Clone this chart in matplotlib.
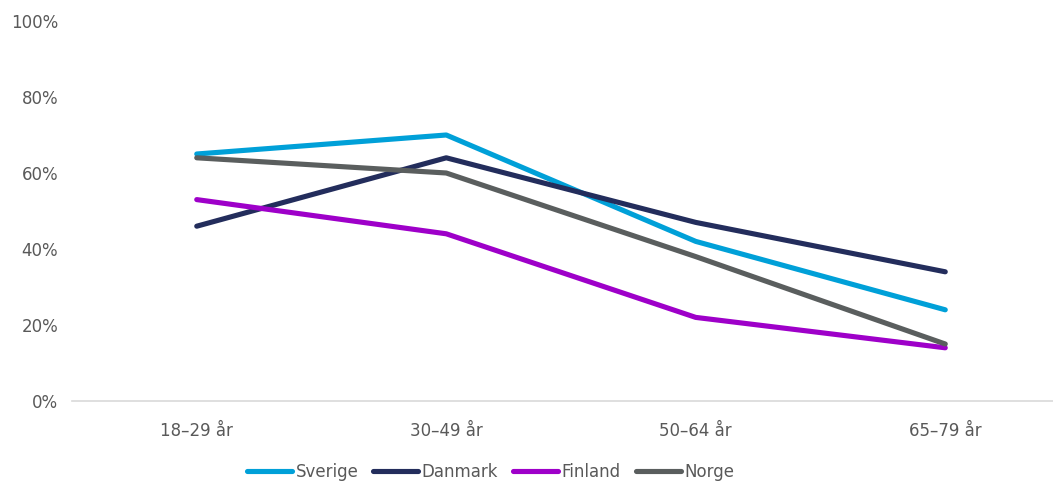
import numpy as np
import matplotlib.pyplot as plt
from matplotlib.ticker import PercentFormatter

# Andel per åldersgrupp och land
age_groups = ["18–29 år", "30–49 år", "50–64 år", "65–79 år"]
sverige = [65, 70, 42, 24]
danmark = [46, 64, 47, 34]
finland = [53, 44, 22, 14]
norge = [64, 60, 38, 15]

series = [
    ("Sverige", sverige, "#00a0d8"),
    ("Danmark", danmark, "#232d5c"),
    ("Finland", finland, "#9e00c9"),
    ("Norge", norge, "#5a5e5e"),
]

plt.rcParams['font.family'] = ['DejaVu Sans']
text_color = "#595959"

fig = plt.figure(figsize=(10.53, 4.82), dpi=100)
ax = fig.add_axes([72 / 1053, 81 / 482, 998 / 1053, 380 / 482])

x = np.arange(len(age_groups))
for name, values, color in series:
    ax.plot(x, values, color=color, linewidth=3.7, label=name,
            solid_capstyle='round', solid_joinstyle='round')

ax.set_xlim(-0.5, 3.5)
ax.set_ylim(0, 100)
ax.set_yticks(np.arange(0, 101, 20))
ax.yaxis.set_major_formatter(PercentFormatter(decimals=0))
ax.set_xticks(x)
ax.set_xticklabels(age_groups)

for side in ['top', 'right', 'left']:
    ax.spines[side].set_visible(False)
ax.spines['bottom'].set_color("#d9d9d9")
ax.spines['bottom'].set_linewidth(1.2)
ax.tick_params(axis='both', length=0, labelsize=12, colors=text_color)
ax.tick_params(axis='y', pad=10)
ax.tick_params(axis='x', pad=15)

leg = fig.legend(loc='center', bbox_to_anchor=(0.466, 10 / 482), ncol=4,
                 frameon=False, fontsize=12, handlelength=2.7,
                 handletextpad=0.2, columnspacing=0.9)
for text in leg.get_texts():
    text.set_color(text_color)

fig.savefig("out.png", dpi=100)
